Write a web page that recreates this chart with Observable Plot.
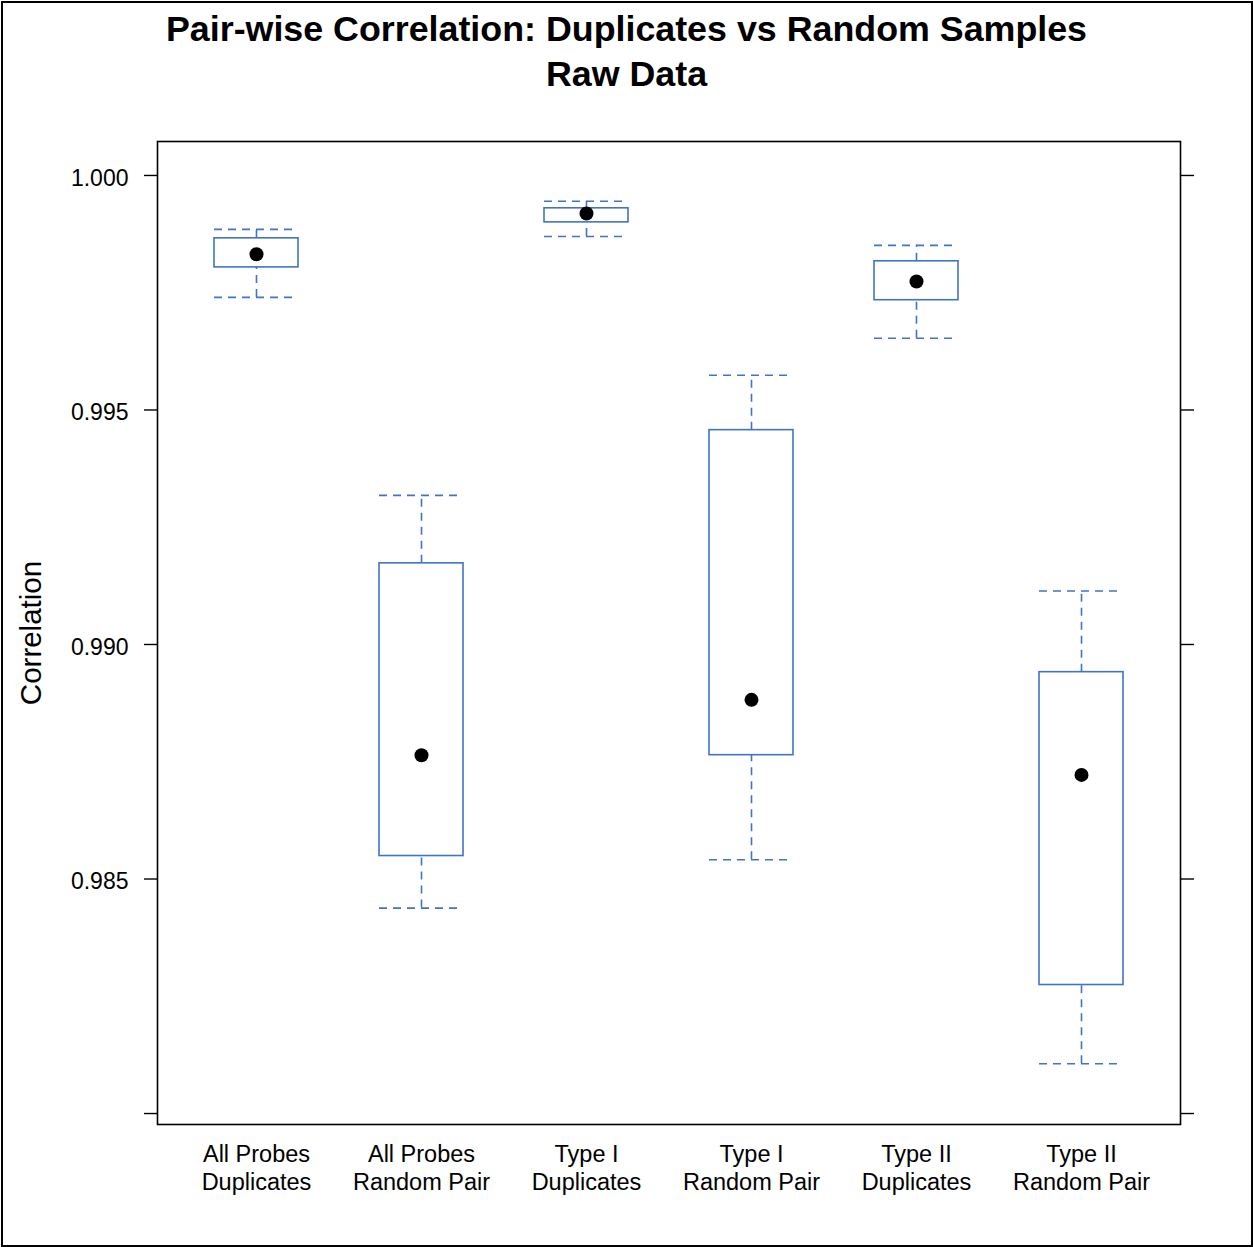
<!DOCTYPE html>
<html>
<head>
<meta charset="utf-8">
<script src="https://cdn.jsdelivr.net/npm/d3@7"></script>
<script src="https://cdn.jsdelivr.net/npm/@observablehq/plot@0.6"></script>
<style>
  html, body { margin: 0; padding: 0; background: white; }
  #fig { position: relative; width: 1253px; height: 1247px; font-family: "Liberation Sans", Arial, Helvetica, sans-serif; }
  #border { position: absolute; left: 1px; top: 1px; width: 1248px; height: 1242px; border: 2px solid black; pointer-events: none; }
  #title { position: absolute; left: 0; top: 7px; width: 1253px; text-align: center; font-weight: bold; font-size: 35.8px; line-height: 45px; color: black; z-index: 2; }
  #chart { position: absolute; left: 0; top: 0; }
</style>
</head>
<body>
<div id="fig">
  <div id="chart"></div>
  <div id="title"><div>Pair-wise Correlation: Duplicates vs Random Samples</div><div>Raw Data</div></div>
  <div id="border"></div>
</div>
<script>
// ---- data ----
const categories = [
  "All Probes\nDuplicates",
  "All Probes\nRandom Pair",
  "Type I\nDuplicates",
  "Type I\nRandom Pair",
  "Type II\nDuplicates",
  "Type II\nRandom Pair"
];
const whiskerLow  = [0.99740, 0.98438, 0.99870, 0.98541, 0.99653, 0.98106];
const quartile1   = [0.99804, 0.98549, 0.99900, 0.98764, 0.99734, 0.98274];
const medians     = [0.99832, 0.98764, 0.99919, 0.98882, 0.99774, 0.98722];
const quartile3   = [0.99866, 0.99173, 0.99930, 0.99457, 0.99817, 0.98941];
const whiskerHigh = [0.99885, 0.99318, 0.99945, 0.99574, 0.99851, 0.99114];
const yTicks = [0.980, 0.985, 0.990, 0.995, 1.000];
const yTickLabels = ["", "0.985", "0.990", "0.995", "1.000"];
const yLabel = "Correlation";

const data = categories.map((c, i) => ({
  cat: c, lo: whiskerLow[i], q1: quartile1[i], med: medians[i], q3: quartile3[i], hi: whiskerHigh[i]
}));

const blue = "#3f74c6";
const dash = "8,6";
const sw = 1.6;
const boxInset = 25;

const chart = Plot.plot({
  width: 1253,
  height: 1247,
  marginLeft: 157,
  marginRight: 73,
  marginTop: 141,
  marginBottom: 123,
  style: { fontFamily: "Liberation Sans, Arial, Helvetica, sans-serif", fontSize: "23px", background: "white", color: "black" },
  x: { type: "band", domain: categories, padding: 0.189, axis: null },
  y: { domain: [0.979766, 1.000724], axis: null },
  marks: [
    Plot.ruleX(data, { x: "cat", y1: "q3", y2: "hi", stroke: blue, strokeWidth: sw, strokeDasharray: dash }),
    Plot.ruleX(data, { x: "cat", y1: "lo", y2: "q1", stroke: blue, strokeWidth: sw, strokeDasharray: dash }),
    Plot.tickY(data, { x: "cat", y: "hi", stroke: blue, strokeWidth: sw, strokeDasharray: dash, insetLeft: boxInset, insetRight: boxInset }),
    Plot.tickY(data, { x: "cat", y: "lo", stroke: blue, strokeWidth: sw, strokeDasharray: dash, insetLeft: boxInset, insetRight: boxInset }),
    Plot.barY(data, { x: "cat", y1: "q1", y2: "q3", fill: "white", stroke: blue, strokeWidth: sw, insetLeft: boxInset, insetRight: boxInset }),
    Plot.dot(data, { x: "cat", y: "med", r: 7, fill: "black", stroke: "none" }),
    Plot.axisY({ anchor: "left", ticks: yTicks, tickSize: 13, tickFormat: () => "", label: null, strokeWidth: 1.4 }),
    Plot.axisY({ anchor: "left", ticks: yTicks, tickSize: 0, tickPadding: 29, dy: 3, tickFormat: (d) => yTickLabels[yTicks.indexOf(d)], fontSize: 23, label: null }),
    Plot.axisY({ anchor: "right", ticks: yTicks, tickSize: 13, tickFormat: () => "", label: null, strokeWidth: 1.4 }),
    Plot.text(categories, { x: d => d, text: d => d, frameAnchor: "bottom", lineAnchor: "top", dy: 18, fontSize: 23.5, lineHeight: 1.19, fill: "black" }),
    Plot.text([yLabel], { text: d => d, frameAnchor: "left", textAnchor: "middle", rotate: -90, dx: -126, fontSize: 29.5, fill: "black" }),
    Plot.frame({ stroke: "black", strokeWidth: 1.6 })
  ]
});
document.getElementById("chart").appendChild(chart);
</script>
</body>
</html>
